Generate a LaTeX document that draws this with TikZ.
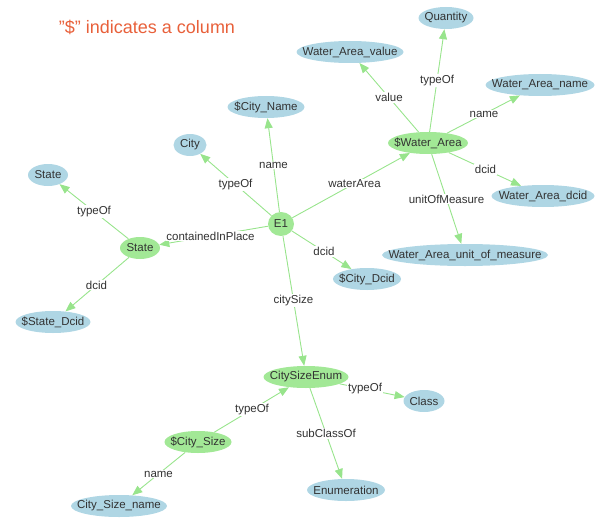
\documentclass[tikz,border=0pt]{standalone}
\usepackage{fontspec}
\setmainfont{Liberation Sans}
\usetikzlibrary{shapes.geometric,arrows.meta}
\definecolor{nblue}{RGB}{175,214,228}
\definecolor{ngreen}{RGB}{162,232,150}
\definecolor{egreen}{RGB}{152,228,140}
\definecolor{tgray}{RGB}{50,50,50}
\definecolor{ttl}{RGB}{232,96,58}
\newcommand\zb[1]{\makebox[0pt]{#1}}
\begin{document}
\begin{tikzpicture}[x=1pt,y=-1pt,
  base/.style={ellipse, inner sep=0pt, minimum height=22pt, text=tgray,
    font=\fontsize{11.5}{13}\selectfont},
  bnode/.style={base, fill=nblue},
  gnode/.style={base, fill=ngreen},
  edge/.style={draw=egreen, line width=0.9pt, -{Triangle[length=10pt,width=8pt]}},
  lbl/.style={fill=white, inner sep=0.8pt, text=tgray, font=\fontsize{11.5}{13}\selectfont},
  ttlstyle/.style={text=ttl, inner sep=0pt, font=\fontsize{18}{21}\selectfont}
]
\useasboundingbox (0,0) rectangle (601,524);

\node[ttlstyle] (title) at (147,27) {"\$" indicates a column};

\node[bnode, minimum width=55pt]  (qty)    at (446,18)  {\zb{Quantity}};
\node[bnode, minimum width=107pt] (waval)  at (350,52)  {\zb{Water\_Area\_value}};
\node[bnode, minimum width=109pt] (waname) at (540,85)  {\zb{Water\_Area\_name}};
\node[bnode, minimum width=77pt]  (cname)  at (266,107) {\zb{\$City\_Name}};
\node[gnode, minimum width=80pt]  (wa)     at (428,143) {\zb{\$Water\_Area}};
\node[bnode, minimum width=33pt]  (city)   at (190,145) {\zb{City}};
\node[bnode, minimum width=40pt]  (stateb) at (48,175)  {\zb{State}};
\node[bnode, minimum width=103pt] (wadcid) at (543,196) {\zb{Water\_Area\_dcid}};
\node[gnode, minimum width=26pt, minimum height=24pt] (e1) at (281,224) {\zb{E1}};
\node[gnode, minimum width=40pt]  (stateg) at (140,248) {\zb{State}};
\node[bnode, minimum width=166pt] (waunit) at (465,255) {\zb{Water\_Area\_unit\_of\_measure}};
\node[bnode, minimum width=68pt]  (cdcid)  at (367,279) {\zb{\$City\_Dcid}};
\node[bnode, minimum width=75pt]  (sdcid)  at (53,322)  {\zb{\$State\_Dcid}};
\node[gnode, minimum width=85pt]  (cse)    at (306,377) {\zb{CitySizeEnum}};
\node[bnode, minimum width=41pt]  (class)  at (424,401) {\zb{Class}};
\node[gnode, minimum width=67pt]  (csize)  at (198,442) {\zb{\$City\_Size}};
\node[bnode, minimum width=78pt]  (enum)   at (346,490) {\zb{Enumeration}};
\node[bnode, minimum width=96pt]  (csname) at (119,506) {\zb{City\_Size\_name}};

\foreach \a/\b in {e1/cname, e1/city, e1/wa, e1/stateg, e1/cdcid, e1/cse,
  stateg/stateb, stateg/sdcid, wa/waval, wa/qty, wa/waname, wa/wadcid, wa/waunit,
  cse/class, csize/cse, cse/enum, csize/csname}
  \draw[edge] (\a) -- (\b);

\foreach \a/\b/\t in {e1/cname/name, e1/city/typeOf, e1/wa/waterArea,
  e1/stateg/containedInPlace, e1/cdcid/dcid, e1/cse/citySize,
  stateg/stateb/typeOf, stateg/sdcid/dcid, wa/waval/value, wa/qty/typeOf,
  wa/waname/name, wa/wadcid/dcid, wa/waunit/unitOfMeasure,
  cse/class/typeOf, csize/cse/typeOf, cse/enum/subClassOf, csize/csname/name}
  \path (\a.center) -- node[lbl] {\t} (\b.center);
\end{tikzpicture}
\end{document}
